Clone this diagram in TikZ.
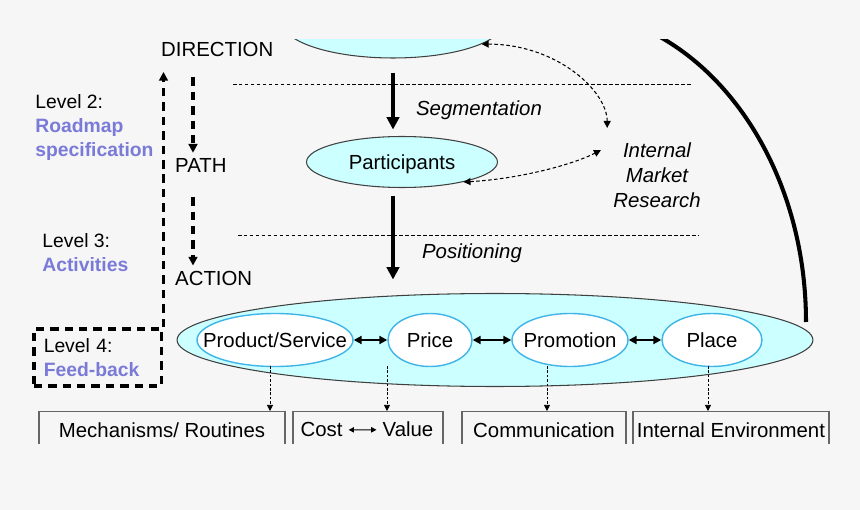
\documentclass[tikz,border=0pt]{standalone}
\usepackage{fontspec}
\setmainfont{Liberation Sans}
\usetikzlibrary{shapes.geometric,arrows.meta}

\begin{document}
\begin{tikzpicture}[x=0.02cm, y=-0.02cm,
  every node/.style={font=\fontsize{11.6}{14.2}\selectfont},
  group/.style={ellipse, draw=black!75, fill=lightcyan, inner sep=0pt, line width=0.6pt},
  mixel/.style={ellipse, draw=pblue, fill=white, inner sep=0pt, line width=0.8pt, minimum height=1.06cm},
  outbox/.style={draw=black!60, line width=0.6pt, anchor=north, inner sep=0pt, minimum height=0.84cm, text height=8.5pt, text depth=2.5pt},
  note/.style={anchor=base, font=\fontsize{11.6}{14.2}\selectfont\itshape},
  lvl/.style={font=\fontsize{11}{13.8}\selectfont, align=left, anchor=north west, inner sep=0pt},
  flow/.style={-{Triangle[length=7pt,width=7pt]}, line width=2pt},
  plan/.style={-{Triangle[length=5pt,width=5pt]}, line width=2pt, dash pattern=on 4.8pt off 3.4pt},
  sep/.style={line width=0.5pt, dash pattern=on 2pt off 1.4pt},
  survey/.style={{Triangle[length=4pt,width=4pt]}-{Triangle[length=4pt,width=4pt]}, line width=0.6pt, dash pattern=on 2pt off 1.4pt},
  mix/.style={{Triangle[length=4.5pt,width=4.5pt]}-{Triangle[length=4.5pt,width=4.5pt]}, line width=1.3pt},
  drop/.style={-{Triangle[length=3.5pt,width=3.5pt]}, line width=0.5pt, dash pattern=on 1.5pt off 1pt}]
  \definecolor{lightcyan}{RGB}{204,255,255}
  \definecolor{pblue}{RGB}{64,180,232}
  \definecolor{lvlblue}{RGB}{122,122,216}
  \definecolor{paper}{RGB}{246,246,246}
  \fill[paper] (0,0) rectangle (860,510);
  \useasboundingbox (0,0) rectangle (860,510);
  \begin{scope}
  \clip (0,40) rectangle (860,443);
  \node[lvl] (lvtwo) at (35,94) {Level 2:\\\textcolor{lvlblue}{\textbf{Roadmap}}\\\textcolor{lvlblue}{\textbf{specification}}};
  \node[lvl] (lvthree) at (42,233) {Level 3:\\\textcolor{lvlblue}{\textbf{Activities}}};
  \node[lvl, draw, line width=2pt, dash pattern=on 4.8pt off 3.4pt, text width=2.16cm, inner xsep=0.2cm, minimum height=1.14cm] (lvfour) at (32,327) {Level 4:\\\textcolor{lvlblue}{\textbf{Feed-back}}};
  \node[anchor=base west] (dirlbl) at (155,57) {DIRECTION};
  \node[anchor=base west] (pathlbl) at (169,173) {PATH};
  \node[anchor=base west] (actlbl) at (169,286) {ACTION};
  \coordinate (planline) at (193,0);
  \draw[plan, shorten <=0.28cm] (dirlbl.south -| planline) -- (pathlbl.north -| planline);
  \draw[plan, shorten <=0.36cm] (pathlbl.south -| planline) -- (actlbl.north -| planline);
  \draw[plan, shorten >=0.17cm] (lvfour.north east) -- (lvfour.north east |- dirlbl.south);
  \draw[sep] (233,84) -- (692,84);
  \draw[sep] (238,235) -- (698,235);
  \node[group, minimum width=4.44cm, minimum height=1.44cm] (dir) at (393,22) {};
  \node[group, minimum width=3.82cm, minimum height=1.02cm, text depth=0pt] (part) at (402,162) {Participants};
  \node[group, minimum width=12.72cm, minimum height=1.86cm] (act) at (495,340) {};
  \node[mixel, minimum width=3.12cm, label=center:Product/Service] (prod) at (275,340) {};
  \node[mixel, minimum width=1.68cm, label=center:Price] (price) at (430,340) {};
  \node[mixel, minimum width=2.32cm, label=center:Promotion] (promo) at (570,340) {};
  \node[mixel, minimum width=2cm, label=center:Place] (place) at (712,340) {};
  \draw[mix] (prod) -- (price);
  \draw[mix] (price) -- (promo);
  \draw[mix] (promo) -- (place);
  \draw[flow, shorten <=0.28cm, shorten >=0.13cm] (dir.south) -- (dir.south |- part.north);
  \draw[flow, shorten <=0.15cm, shorten >=0.27cm] (dir.south |- part.south) -- (dir.south |- act.north);
  \node[note] (seg) at (479,116) {Segmentation};
  \node[note] (pos) at (472,259) {Positioning};
  \node[align=center, anchor=north, font=\fontsize{11.6}{14.2}\selectfont\itshape] (imr) at (657,137) {Internal\\Market\\Research};
  \draw[survey, shorten >=0.18cm] (dir.-14) .. controls +(75,0) and +(0,-46) .. (imr.north west);
  \draw[survey, shorten >=0.14cm] (part.-18) .. controls +(55,-3) and +(-35,18) .. (imr.150);
  \coordinate (fbend) at (806,322);
  \draw[line width=2.3pt] (fbend) arc[start angle=0, end angle=90, x radius=4.92cm, y radius=6.24cm];
  \node[outbox, minimum width=4.92cm] (mech) at (162,411) {Mechanisms/ Routines};
  \node[outbox, minimum width=3cm] (costval) at (368,411) {};
  \node[anchor=base] (cost) at (321.5,437) {Cost};
  \node[anchor=base] (value) at (408,437) {Value};
  \draw[{Triangle[length=3pt,width=3pt]}-{Triangle[length=3pt,width=3pt]}, line width=0.6pt] (cost) -- (value);
  \node[outbox, minimum width=3.28cm] (comm) at (544,411) {Communication};
  \node[outbox, minimum width=3.92cm] (env) at (731,411) {Internal Environment};
  \foreach \x/\b in {270/mech, 387/costval, 547/comm, 708/env}{
    \coordinate (d\b) at (\x,366);
    \draw[drop] (d\b) -- (d\b |- \b.north);
  }
  \end{scope}
\end{tikzpicture}
\end{document}
